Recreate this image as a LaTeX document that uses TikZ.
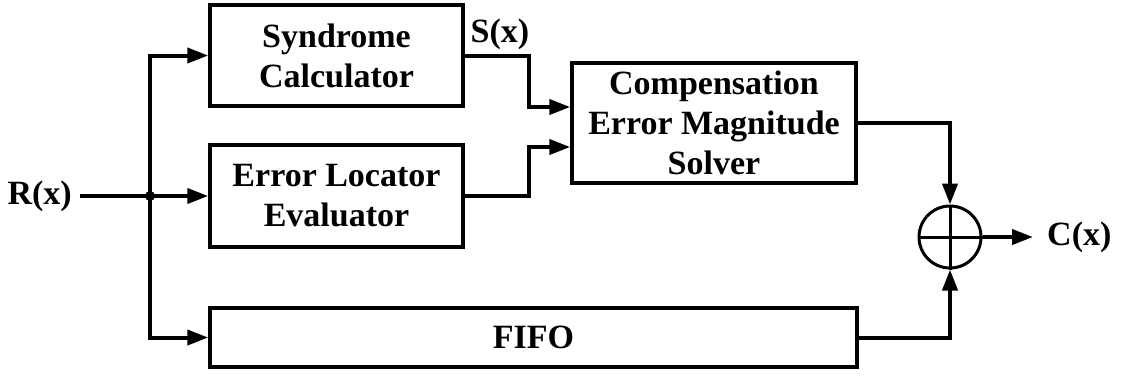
\documentclass[tikz,border=0pt]{standalone}
\usepackage{fontspec}
\setmainfont{Liberation Serif}
\usetikzlibrary{arrows.meta}
\begin{document}
\begin{tikzpicture}[x=1pt,y=-1pt,
  blk/.style={draw,line width=3.5pt,inner sep=0pt,font=\bfseries\fontsize{34}{40}\selectfont,align=center},
  wire/.style={line width=4pt},
  arr/.style={wire,-{Triangle[length=21pt,width=15pt]}},
  lbl/.style={font=\bfseries\fontsize{34}{40}\selectfont,inner sep=0pt}]
\useasboundingbox (0,0) rectangle (1123,376);
\node[blk,minimum width=253pt,minimum height=101pt] (syn) at (336.5,55.5) {Syndrome\\Calculator};
\node[blk,minimum width=253pt,minimum height=102pt] (el) at (336.5,196) {Error Locator\\Evaluator};
\node[blk,minimum width=647pt,minimum height=59pt] (fifo) at (533.5,337.5) {FIFO};
\node[blk,minimum width=284pt,minimum height=120pt] (comp) at (714,123) {Compensation\\Error Magnitude\\Solver};
\node[circle,draw,line width=3pt,minimum size=62pt,inner sep=0pt] (xor) at (950,237) {};
\node[lbl,anchor=east] (rx) at (72,196) {R(x)};
\node[lbl,anchor=west] (cx) at (1047,237) {C(x)};
\node[lbl,anchor=base] (sx) at (500,42) {S(x)};
\coordinate (j) at (150,196);
\draw[arr,shorten <=8pt] (rx.east) -- (el.west);
\fill (j) circle (5pt);
\draw[arr] (j) |- (syn.west);
\draw[arr] (j) |- (fifo.west);
\draw[arr] (syn.east) -- ++(64,0) |- ([yshift=16pt]comp.west);
\draw[arr] (el.east) -- ++(64,0) |- ([yshift=-24pt]comp.west);
\draw[arr] (comp.east) -| (xor.north);
\draw[arr] (fifo.east) -| (xor.south);
\draw[line width=3pt] (xor.west) -- (xor.east);
\draw[line width=3pt] (xor.north) -- (xor.south);
\draw[arr,shorten >=14pt] (xor.east) -- (cx.west);
\end{tikzpicture}
\end{document}
